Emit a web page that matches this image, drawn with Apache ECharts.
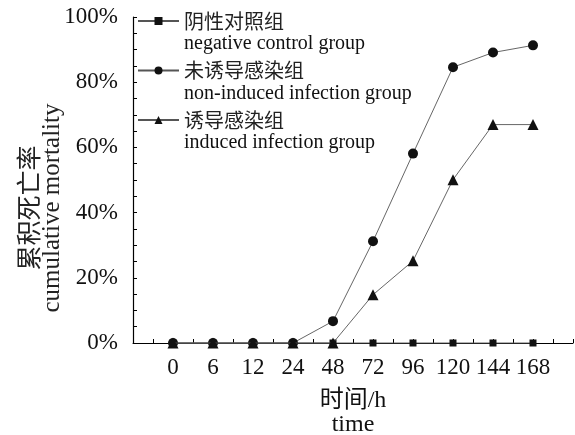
<!DOCTYPE html>
<html><head><meta charset="utf-8">
<script src="https://cdn.jsdelivr.net/npm/echarts@6/dist/echarts.min.js"></script>
<style>html,body{margin:0;padding:0;background:#fff}#c{width:575px;height:435px}</style>
</head><body><div id="c"></div>
<script>
const categories = ['0','6','12','24','48','72','96','120','144','168'];
const seriesNamesCN = ['阴性对照组','未诱导感染组','诱导感染组'];
const seriesNamesEN = ['negative control group','non-induced infection group','induced infection group'];
const negativeControl = [0,0,0,0,0,0,0,0,0,0];
const nonInduced = [0,0,0,0,6.7,31.2,58.1,84.6,89.1,91.3];
const induced = [0,0,0,0,0,14.8,25.2,50.1,67.0,67.0];
const yTicks = [0,20,40,60,80,100];

const serif = '"Liberation Serif","Times New Roman","Noto Sans CJK SC",serif';
function pts(arr){ return arr.map((v,i)=>[i,v]); }
const symbols = ['rect','circle','triangle'];
const sizes = [7,10,11];
const dataSets = [negativeControl, nonInduced, induced];

const chart = echarts.init(document.getElementById('c'), null, {renderer:'canvas'});
chart.setOption({
  animation:false,
  backgroundColor:'#fff',
  grid:{left:133,right:2,top:17,bottom:92,containLabel:false,outerBoundsMode:'none'},
  legend:{
    orient:'vertical', left:137, top:-7, itemGap:-11.5, padding:0,
    itemWidth:41, itemHeight:10,
    data:seriesNamesCN,
    formatter:function(name){
      const i = seriesNamesCN.indexOf(name);
      return '{s| }\n{c|'+name+'}\n{e|'+seriesNamesEN[i]+'}';
    },
    textStyle:{
      color:'#111',
      rich:{
        s:{fontSize:10,lineHeight:22},
        c:{fontSize:20,lineHeight:24,fontFamily:'"Noto Sans CJK SC",sans-serif',color:'#222'},
        e:{fontSize:20,lineHeight:22,fontFamily:serif,color:'#111'}
      }
    }
  },
  xAxis:{
    type:'value', min:-1, max:10, interval:0.5,
    name:'时间/h\ntime', nameLocation:'middle', nameGap:46, nameMoveOverlap:false,
    nameTextStyle:{fontFamily:serif,fontSize:24,lineHeight:24,color:'#111',verticalAlign:'top'},
    axisLine:{show:true,onZero:false,lineStyle:{color:'#000',width:1}},
    axisTick:{show:true,inside:true,length:4,lineStyle:{color:'#000'}},
    splitLine:{show:false},
    axisLabel:{
      margin:13, fontFamily:serif, fontSize:23, color:'#111',
      showMinLabel:true, showMaxLabel:true,
      formatter:function(v){
        if (Number.isInteger(v) && v>=0 && v<categories.length) return categories[v];
        return '';
      }
    }
  },
  yAxis:{
    type:'value', min:yTicks[0], max:yTicks[yTicks.length-1], interval:20,
    name:'累积死亡率\ncumulative mortality', nameLocation:'middle', nameGap:70, nameMoveOverlap:false,
    nameTextStyle:{fontFamily:serif,fontSize:25,lineHeight:21,color:'#222',padding:[0,56,0,0]},
    axisLine:{show:true,onZero:false,lineStyle:{color:'#000',width:1.2}},
    axisTick:{show:true,inside:true,length:4,lineStyle:{color:'#000'}},
    minorTick:{show:true,splitNumber:4,length:4,lineStyle:{color:'#000'}},
    splitLine:{show:false},
    axisLabel:{margin:15,fontFamily:serif,fontSize:23,color:'#111',formatter:'{value}%'}
  },
  series: dataSets.map((d,i)=>({
    name:seriesNamesCN[i], type:'line', data:pts(d),
    symbol:symbols[i], symbolSize:sizes[i], showSymbol:true,
    itemStyle:{color:'#111'},
    lineStyle:{color:'#555',width:0.9},
    z:2+i, clip:false
  }))
});
</script></body></html>
